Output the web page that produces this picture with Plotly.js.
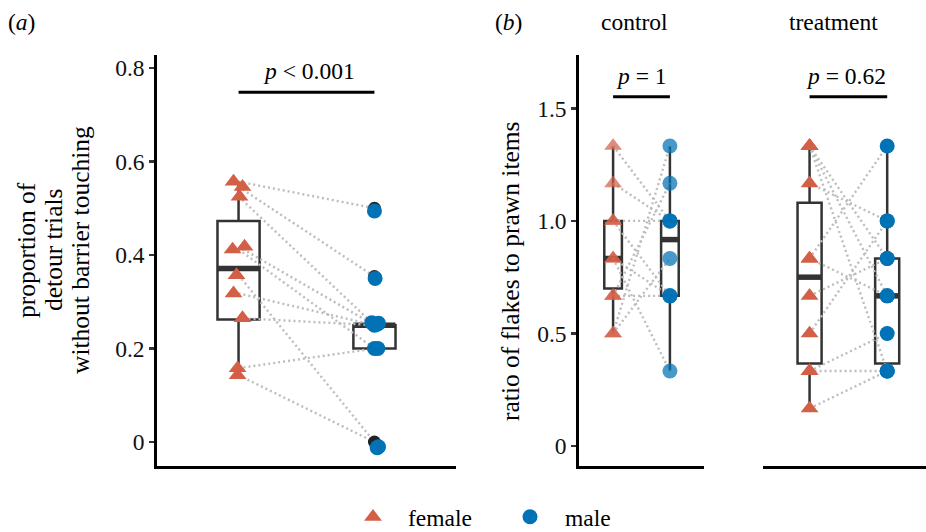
<!DOCTYPE html>
<html><head><meta charset="utf-8">
<script src="https://cdn.plot.ly/plotly-3.0.1.min.js"></script>
<style>html,body{margin:0;padding:0;background:#fff}#chart{width:926px;height:532px}</style>
</head><body><div id="chart"></div>
<script>
// ---------- Panel (a): proportion of detour trials ----------
const femaleA = [0.557, 0.546, 0.525, 0.418, 0.412, 0.357, 0.318, 0.265, 0.158, 0.143];
const maleA   = [0.5, 0.354, 0.25, 0.25, 0.2, 0, 0.25, 0.25, 0.2, 0];
const maleApoints = [0.494, 0.350, 0.255, 0.252, 0.2, -0.012, 0.25, 0.254, 0.2, -0.01];
const femaleJitterA = [-0.037, 0.029, 0.007, 0.044, -0.044, -0.015, -0.037, 0.029, -0.007, -0.007];
const maleJitterA = [0.0, 0.005, -0.02, 0.02, 0.025, 0.02, 0.0, 0.03, 0.0, 0.03];
const outliersA = [0.5, 0.354, 0];
const boxA_q1 = [0.262, 0.2];
const boxA_med = [0.371, 0.25];
const boxA_q3 = [0.473, 0.25];
const boxA_lo = [0.143, 0.2];
const boxA_hi = [0.557, 0.25];
const pTextA = '<i>p</i> &lt; 0.001';

// ---------- Panel (b): ratio of flakes to prawn items ----------
const femaleCtrl = [1.333, 1.167, 1.0, 1.0, 0.833, 0.833, 0.667, 0.667, 0.5, 0.5];
const maleCtrl   = [1.0, 1.0, 1.0, 0.667, 0.333, 0.667, 1.167, 0.667, 1.333, 0.833];
const boxC_q1 = [0.70, 0.667];
const boxC_med = [0.833, 0.917];
const boxC_q3 = [1.0, 1.0];
const boxC_lo = [0.5, 0.333];
const boxC_hi = [1.333, 1.333];
const pTextC = '<i>p</i> = 1';

const femaleTrt = [1.333, 1.333, 1.333, 1.167, 0.833, 0.833, 0.667, 0.5, 0.333, 0.333, 0.167];
const maleTrt   = [0.667, 0.333, 0.833, 1.0, 1.333, 0.667, 0.833, 1.0, 0.5, 0.333, 0.333];
const boxT_q1 = [0.367, 0.367];
const boxT_med = [0.75, 0.667];
const boxT_q3 = [1.081, 0.833];
const boxT_lo = [0.167, 0.333];
const boxT_hi = [1.333, 1.333];
const pTextT = '<i>p</i> = 0.62';

const groupPos = [1, 2];
const facetLabels = ['control', 'treatment'];
const ticksA = [0, 0.2, 0.4, 0.6, 0.8];
const tickTextA = ['0', '0.2', '0.4', '0.6', '0.8'];
const ticksB = [0, 0.5, 1.0, 1.5];
const tickTextB = ['0', '0.5', '1.0', '1.5'];
const pBarA = 0.748, pLabelA = 0.794;
const pBarB = 1.552, pLabelB = 1.645;

// ---------- styles ----------
const FONT = '"Liberation Serif", "Times New Roman", serif';
const RED = '#d35f47', BLUE = '#0072b5', BOXC = '#333333', PAIR = '#bdbdbd';
const BOXW = 0.31;

function panelTraces(xa, ya, fem, mal, malPts, fj, mj, q1, med, q3, lo, hi, opac, showLeg, outl) {
  const tr = [];
  tr.push({type:'box', x: groupPos, q1: q1, median: med, q3: q3, lowerfence: lo, upperfence: hi,
    width: BOXW, fillcolor:'#ffffff', line:{color:BOXC, width:2.5}, whiskerwidth:0,
    boxpoints:false, xaxis:xa, yaxis:ya, showlegend:false, hoverinfo:'skip'});
  const mx = [], my = [];
  groupPos.forEach((p, i) => { mx.push(p - BOXW/2, p + BOXW/2, null); my.push(med[i], med[i], null); });
  tr.push({type:'scatter', mode:'lines', x:mx, y:my, line:{color:BOXC, width:5.5},
    xaxis:xa, yaxis:ya, showlegend:false, hoverinfo:'skip'});
  const lx = [], ly = [];
  fem.forEach((f, i) => { lx.push(groupPos[0], groupPos[1], null); ly.push(f, mal[i], null); });
  tr.push({type:'scatter', mode:'lines', x:lx, y:ly, line:{color:PAIR, width:2.4, dash:'2px,3px'},
    xaxis:xa, yaxis:ya, showlegend:false, hoverinfo:'skip'});
  if (outl) {
    tr.push({type:'scatter', mode:'markers', x: outl.map(() => groupPos[1]), y: outl,
      marker:{color:'#222', size:13}, xaxis:xa, yaxis:ya, showlegend:false, hoverinfo:'skip'});
  }
  tr.push({type:'scatter', mode:'markers', name:'female', legendgroup:'f',
    x: fem.map((v, i) => groupPos[0] + (fj ? fj[i] : 0)), y: fem,
    marker:{symbol:'triangle-up', color:RED, size:15.5, opacity:opac},
    xaxis:xa, yaxis:ya, showlegend:showLeg, hoverinfo:'skip'});
  tr.push({type:'scatter', mode:'markers', name:'male', legendgroup:'m',
    x: (malPts || mal).map((v, i) => groupPos[1] + (mj ? mj[i] : 0)), y: malPts || mal,
    marker:{symbol:'circle', color:BLUE, size:15, opacity:opac},
    xaxis:xa, yaxis:ya, showlegend:showLeg, hoverinfo:'skip'});
  return tr;
}

const data = [].concat(
  panelTraces('x', 'y', femaleA, maleA, maleApoints, femaleJitterA, maleJitterA,
    boxA_q1, boxA_med, boxA_q3, boxA_lo, boxA_hi, 1, true, outliersA),
  panelTraces('x2', 'y2', femaleCtrl, maleCtrl, null, null, null,
    boxC_q1, boxC_med, boxC_q3, boxC_lo, boxC_hi, 0.72, false, null),
  panelTraces('x3', 'y3', femaleTrt, maleTrt, null, null, null,
    boxT_q1, boxT_med, boxT_q3, boxT_lo, boxT_hi, 1, false, null)
);

const H = 532, W = 926;
const yDom = [(H - 466) / H, (H - 55) / H];
const baseX = {showgrid:false, zeroline:false, showticklabels:false, ticks:'', showline:true,
  linecolor:'#000', linewidth:2.8, fixedrange:true};
const baseY = {showgrid:false, zeroline:false, showline:true, linecolor:'#000', linewidth:2.8,
  ticks:'outside', ticklen:5, tickwidth:2.5, tickcolor:BOXC,
  tickfont:{family:FONT, size:23.5, color:'#111'}, fixedrange:true};

const ann = [];
function A(o) { ann.push(Object.assign({showarrow:false, font:{family:FONT, size:23.5, color:'#000'}}, o)); }
A({text:'(<i>a</i>)', xref:'paper', yref:'paper', x:21.5/W, y:1-22/H, xanchor:'center', yanchor:'middle'});
A({text:'(<i>b</i>)', xref:'paper', yref:'paper', x:508/W, y:1-22/H, xanchor:'center', yanchor:'middle'});
A({text:facetLabels[0], xref:'paper', yref:'paper', x:634.5/W, y:1-22/H, xanchor:'center', yanchor:'middle'});
A({text:facetLabels[1], xref:'paper', yref:'paper', x:833/W, y:1-22/H, xanchor:'center', yanchor:'middle'});
['proportion of', 'detour trials', 'without barrier touching'].forEach((t, i) => {
  A({text:t, textangle:-90, xref:'paper', yref:'paper', x:[26, 53, 80][i]/W, y:1-250/H,
     xanchor:'center', yanchor:'middle', font:{family:FONT, size:25.5, color:'#000'}});
});
A({text:'ratio of flakes to prawn items', textangle:-90, xref:'paper', yref:'paper', x:510/W, y:1-271/H,
   xanchor:'center', yanchor:'middle', font:{family:FONT, size:25.5, color:'#000'}});
A({text:pTextA, xref:'x', yref:'y', x:1.52, y:pLabelA, xanchor:'center', yanchor:'middle'});
A({text:pTextC, xref:'x2', yref:'y2', x:1.5, y:pLabelB, xanchor:'center', yanchor:'middle'});
A({text:pTextT, xref:'x3', yref:'y3', x:1.47, y:pLabelB, xanchor:'center', yanchor:'middle'});

const shp = [
  {type:'line', xref:'x', yref:'y', x0:groupPos[0], x1:groupPos[1], y0:pBarA, y1:pBarA, line:{color:'#000', width:3}},
  {type:'line', xref:'x2', yref:'y2', x0:groupPos[0], x1:groupPos[1], y0:pBarB, y1:pBarB, line:{color:'#000', width:3}},
  {type:'line', xref:'x3', yref:'y3', x0:groupPos[0], x1:groupPos[1], y0:pBarB, y1:pBarB, line:{color:'#000', width:3}}
];

const layout = {
  width: W, height: H, margin:{l:0, r:0, t:0, b:0, autoexpand:false}, paper_bgcolor:'#fff', plot_bgcolor:'rgba(0,0,0,0)',
  font:{family:FONT, size:23.5, color:'#000'},
  xaxis: Object.assign({}, baseX, {domain:[157/W, 456/W], range:[0.4, 2.6], anchor:'y'}),
  yaxis: Object.assign({}, baseY, {domain:yDom, range:[-0.0513, 0.8278], anchor:'x', tickvals:ticksA, ticktext:tickTextA}),
  xaxis2: Object.assign({}, baseX, {domain:[579/W, 704/W], range:[0.4, 2.6], anchor:'y2'}),
  yaxis2: Object.assign({}, baseY, {domain:yDom, range:[-0.0888, 1.737], anchor:'x2', tickvals:ticksB, ticktext:tickTextB}),
  xaxis3: Object.assign({}, baseX, {domain:[763/W, 1], range:[0.4, 2.5], anchor:'y3'}),
  yaxis3: Object.assign({}, baseY, {domain:yDom, range:[-0.0888, 1.737], anchor:'x3', showline:false, ticks:'', showticklabels:false}),
  showlegend:true,
  legend:{orientation:'h', x:338/W, xanchor:'left', y:15/H, yanchor:'middle', bgcolor:'rgba(0,0,0,0)',
    font:{family:FONT, size:23.5, color:'#000'}, itemwidth:60, entrywidth:82, tracegroupgap:0},
  annotations: ann, shapes: shp
};

Plotly.newPlot('chart', data, layout, {staticPlot:true, displayModeBar:false});
</script></body></html>
